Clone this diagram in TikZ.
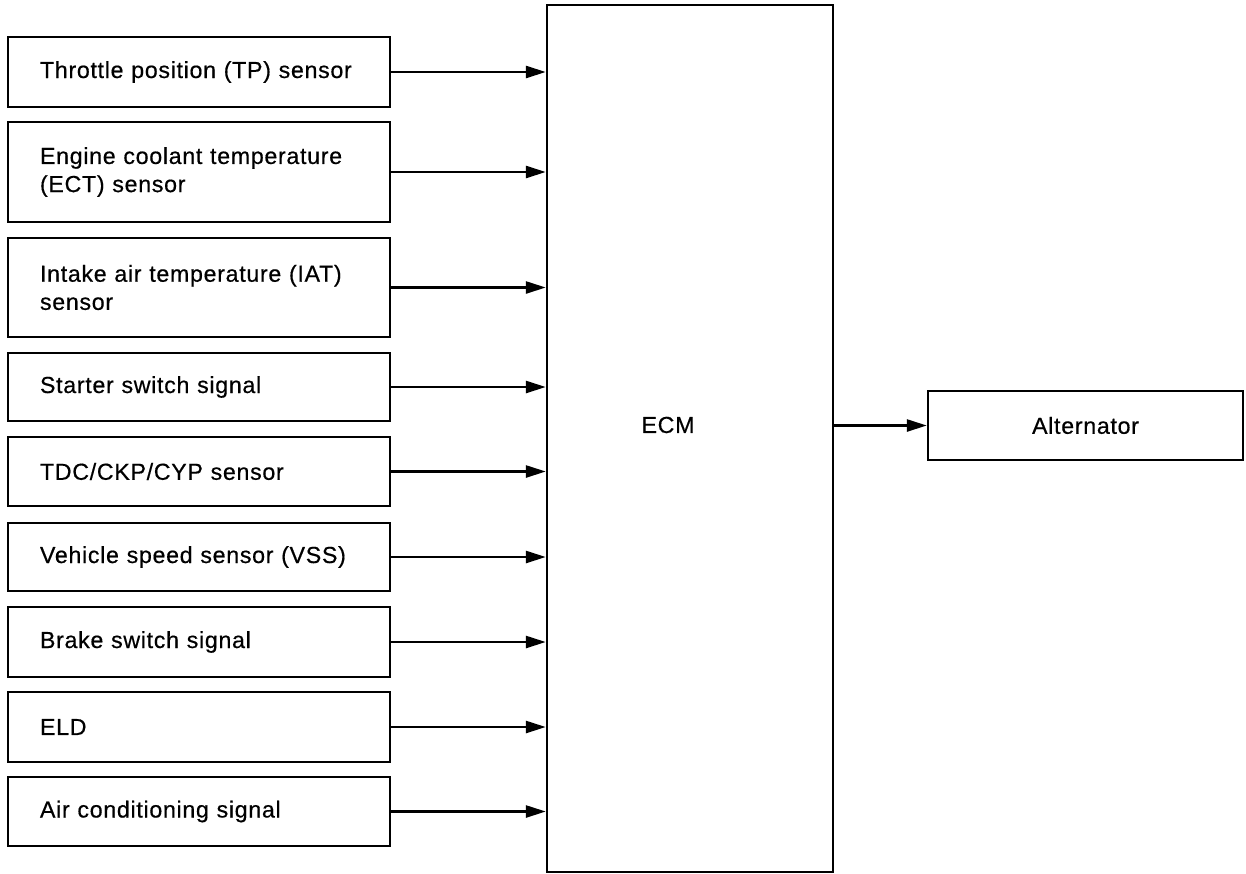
\documentclass[tikz,border=0pt]{standalone}
\usepackage{fontspec}
\setmainfont[LetterSpace=3, FakeBold=0.5]{Liberation Sans}
\usetikzlibrary{arrows.meta, positioning}

\begin{document}
\begin{tikzpicture}[
		x=0.25mm, y=-0.25mm,
		font=\fontsize{16.5}{20}\selectfont,
		% Input box styles
		inbox/.style={draw=black, line width=0.6mm, text width=79.5mm, inner xsep=8mm, align=left},
		% Unit box styles
		unitbox/.style={draw=black, line width=0.6mm, inner sep=0pt},
		sig/.style={-{Triangle[length=5mm, width=3mm]}, line width=0.65mm}
		]
		\useasboundingbox (0,0) rectangle (1246,873);
		
		% --- INPUT SIGNALS ---
		\node[inbox, minimum height=17.5mm] (tp) at (199,72) {Throttle position (TP) sensor};
		\node[inbox, minimum height=25mm] (ect) at (199,172) {Engine coolant temperature\\(ECT) sensor};
		\node[inbox, minimum height=24.75mm] (iat) at (199,287.5) {Intake air temperature (IAT)\\sensor};
		\node[inbox, minimum height=17mm] (sts) at (199,387) {Starter switch signal};
		\node[inbox, minimum height=17.25mm] (tdc) at (199,471.5) {TDC/CKP/CYP sensor};
		\node[inbox, minimum height=17mm] (vss) at (199,557) {Vehicle speed sensor (VSS)};
		\node[inbox, minimum height=17.5mm] (brk) at (199,642) {Brake switch signal};
		\node[inbox, minimum height=17.5mm] (eld) at (199,727) {ELD};
		\node[inbox, minimum height=17.25mm] (ac) at (199,811.5) {Air conditioning signal};
		
		% --- ECM AND OUTPUT ---
		\node[unitbox, minimum width=71.5mm, minimum height=216.75mm] (ecm) at (690,438.5) {};
		\node (ecmtxt) at (668,425) {ECM};
		\node[unitbox, minimum width=78.75mm, minimum height=17.25mm] (alt) at (1085.5,425.5) {Alternator};
		
		\foreach \s in {tp,ect,iat,sts,tdc,vss,brk,eld,ac}
		\draw[sig] (\s.east) -- (ecm.west |- \s.east);
		\draw[sig] (ecm.east |- alt.west) -- (alt.west);
		
	\end{tikzpicture}
\end{document}
